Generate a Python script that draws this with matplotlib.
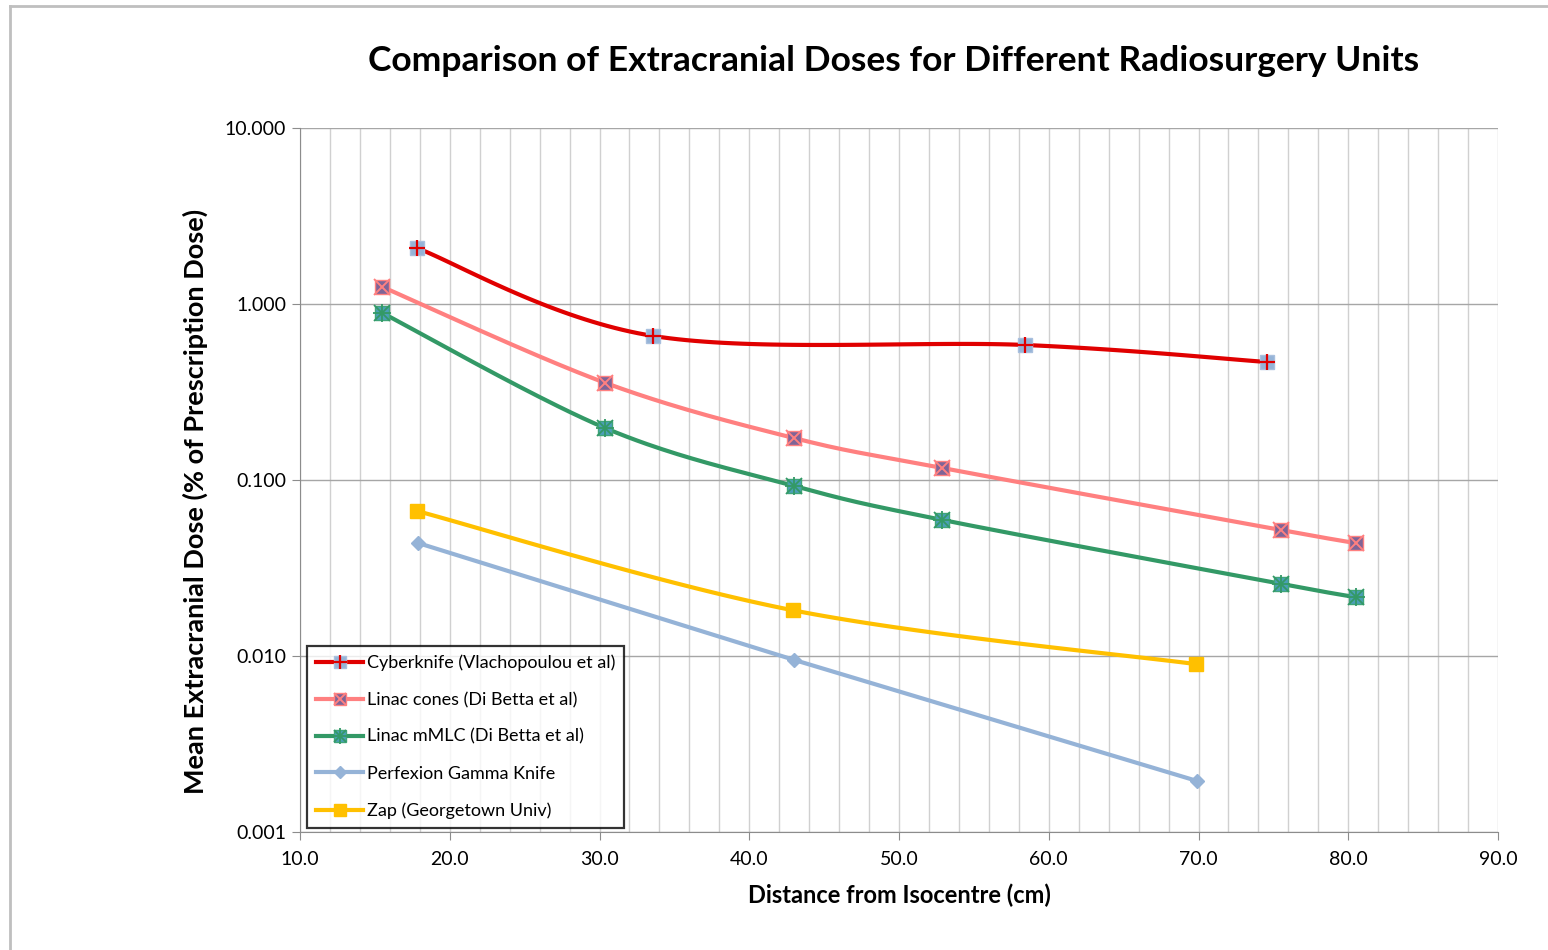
import matplotlib
matplotlib.use("Agg")
import matplotlib.pyplot as plt
import numpy as np
from matplotlib.lines import Line2D
from matplotlib.legend_handler import HandlerTuple
from matplotlib.ticker import FixedLocator, FormatStrFormatter, MultipleLocator, NullLocator

plt.rcParams["font.family"] = ["Lato", "DejaVu Sans"]

# ---- data --------------------------------------------------------------------
cyber_x = [17.8, 33.6, 58.4, 74.6]
cyber_y = [2.08, 0.658, 0.585, 0.468]

cones_x = [15.5, 30.4, 43.0, 52.9, 75.5, 80.5]
cones_y = [1.25, 0.356, 0.173, 0.117, 0.052, 0.0438]

mmlc_x = [15.5, 30.4, 43.0, 52.9, 75.5, 80.5]
mmlc_y = [0.889, 0.197, 0.0925, 0.0593, 0.0257, 0.0216]

gamma_x = [17.9, 43.0, 69.9]
gamma_y = [0.0438, 0.0095, 0.00195]

zap_x = [17.8, 42.9, 69.8]
zap_y = [0.0667, 0.0182, 0.0090]

labels = ["Cyberknife (Vlachopoulou et al)",
          "Linac cones (Di Betta et al)",
          "Linac mMLC (Di Betta et al)",
          "Perfexion Gamma Knife",
          "Zap (Georgetown Univ)"]

y_ticks = [0.001, 0.01, 0.1, 1.0, 10.0]
x_ticks = [10, 20, 30, 40, 50, 60, 70, 80, 90]


def smooth(xs, ys, n=40):
    """Catmull-Rom through points in (x, log10 y) -- roughly Excel's smoothed line."""
    P = np.column_stack([xs, np.log10(ys)])
    P = np.vstack([P[0], P, P[-1]])
    out = []
    t = np.linspace(0, 1, n)[:, None]
    for i in range(1, len(P) - 2):
        p0, p1, p2, p3 = P[i - 1], P[i], P[i + 1], P[i + 2]
        c1 = p1 + (p2 - p0) / 6
        c2 = p2 - (p3 - p1) / 6
        seg = ((1 - t) ** 3 * p1 + 3 * (1 - t) ** 2 * t * c1
               + 3 * (1 - t) * t ** 2 * c2 + t ** 3 * p2)
        out.append(seg if i == 1 else seg[1:])
    seg = np.vstack(out)
    return seg[:, 0], 10 ** seg[:, 1]


fig = plt.figure(figsize=(15.48, 9.5), dpi=100)
ax = fig.add_axes([300 / 1548, 1 - 832 / 950, 1198 / 1548, 704 / 950])

series = [
    # x, y, line colour, smooth, marker, face, edge, overlays
    (cyber_x, cyber_y, "#E00000", True, "s", "#95B3D7", "#A9C0DE",
     [("+", "#E00000", 12, 1.6)]),
    (cones_x, cones_y, "#FF8080", True, "s", "#7F6497", "#FF8080",
     [("x", "#FF8080", 11, 1.4)]),
    (mmlc_x, mmlc_y, "#339966", True, "s", "#4B9FB8", "#3FA57A",
     [("x", "#339966", 11, 1.3), ("+", "#339966", 13, 1.3)]),
    (gamma_x, gamma_y, "#95B3D7", False, "D", "#95B3D7", "#95B3D7", []),
    (zap_x, zap_y, "#FFC000", True, "s", "#FFC000", "#FFC000", []),
]

handles = []
for (xs, ys, lc, sm, mk, fc, ec, overlays), lab in zip(series, labels):
    if sm:
        sx, sy = smooth(xs, ys)
    else:
        sx, sy = xs, ys
    ax.plot(sx, sy, color=lc, lw=3.0, solid_capstyle="round", zorder=3)
    ms = 7.5 if mk == "D" else 10.5
    ax.plot(xs, ys, ls="none", marker=mk, ms=ms, mfc=fc, mec=ec, mew=1.0, zorder=4)
    h = [Line2D([0], [0], color=lc, lw=3.0, marker=mk, ms=ms * 0.85,
                mfc=fc, mec=ec, mew=1.0)]
    for om, oc, oms, omw in overlays:
        ax.plot(xs, ys, ls="none", marker=om, ms=oms, mec=oc, mew=omw, zorder=5)
        h.append(Line2D([0], [0], ls="none", marker=om, ms=oms * 0.85,
                        mec=oc, mew=omw))
    handles.append(tuple(h))

ax.set_yscale("log")
ax.set_ylim(0.001, 10)
ax.set_xlim(10, 90)
ax.yaxis.set_major_locator(FixedLocator(y_ticks))
ax.yaxis.set_minor_locator(NullLocator())
ax.yaxis.set_major_formatter(FormatStrFormatter("%.3f"))
ax.xaxis.set_major_locator(FixedLocator(x_ticks))
ax.xaxis.set_major_formatter(FormatStrFormatter("%.1f"))
ax.xaxis.set_minor_locator(MultipleLocator(2))

ax.grid(True, axis="x", which="both", color="#D0D0D0", lw=1.0, zorder=0)
ax.grid(True, axis="y", which="major", color="#A6A6A6", lw=1.0, zorder=0)
ax.set_axisbelow(True)
for side in ["top", "right"]:
    ax.spines[side].set_visible(False)
for side in ["left", "bottom"]:
    ax.spines[side].set_color("#8C8C8C")
ax.tick_params(axis="both", which="major", length=6, color="#8C8C8C",
               labelsize=14, pad=4)
ax.tick_params(axis="x", which="minor", length=0)
ax.tick_params(axis="x", pad=8)

ax.set_xlabel("Distance from Isocentre (cm)", fontsize=17, fontweight="bold",
              labelpad=11)
ax.set_ylabel("Mean Extracranial Dose (% of Prescription Dose)", fontsize=19.5,
              fontweight="bold")
ax.yaxis.set_label_coords(-0.0768, 0.469)
fig.text(894 / 1548, 1 - 61 / 950,
         "Comparison of Extracranial Doses for Different Radiosurgery Units",
         ha="center", va="center", fontsize=25.5, fontweight="bold")

leg = ax.legend(handles, labels, loc="lower left",
                bbox_to_anchor=(7 / 1198, 4 / 704), borderaxespad=0,
                fontsize=13, frameon=True, fancybox=False, edgecolor="black",
                handlelength=2.6, handletextpad=0.2, labelspacing=1.15,
                borderpad=0.5, handler_map={tuple: HandlerTuple(ndivide=1)})
leg.get_frame().set_linewidth(1.6)
leg.set_zorder(10)

# chart-area border (left & top visible in the reference)
fig.add_artist(Line2D([10 / 1548, 10 / 1548], [0, 1 - 6 / 950],
                      color="#BFBFBF", lw=2.0, transform=fig.transFigure))
fig.add_artist(Line2D([10 / 1548, 1], [1 - 6 / 950, 1 - 6 / 950],
                      color="#BFBFBF", lw=2.0, transform=fig.transFigure))

fig.savefig("out.png", dpi=100, facecolor="white")
